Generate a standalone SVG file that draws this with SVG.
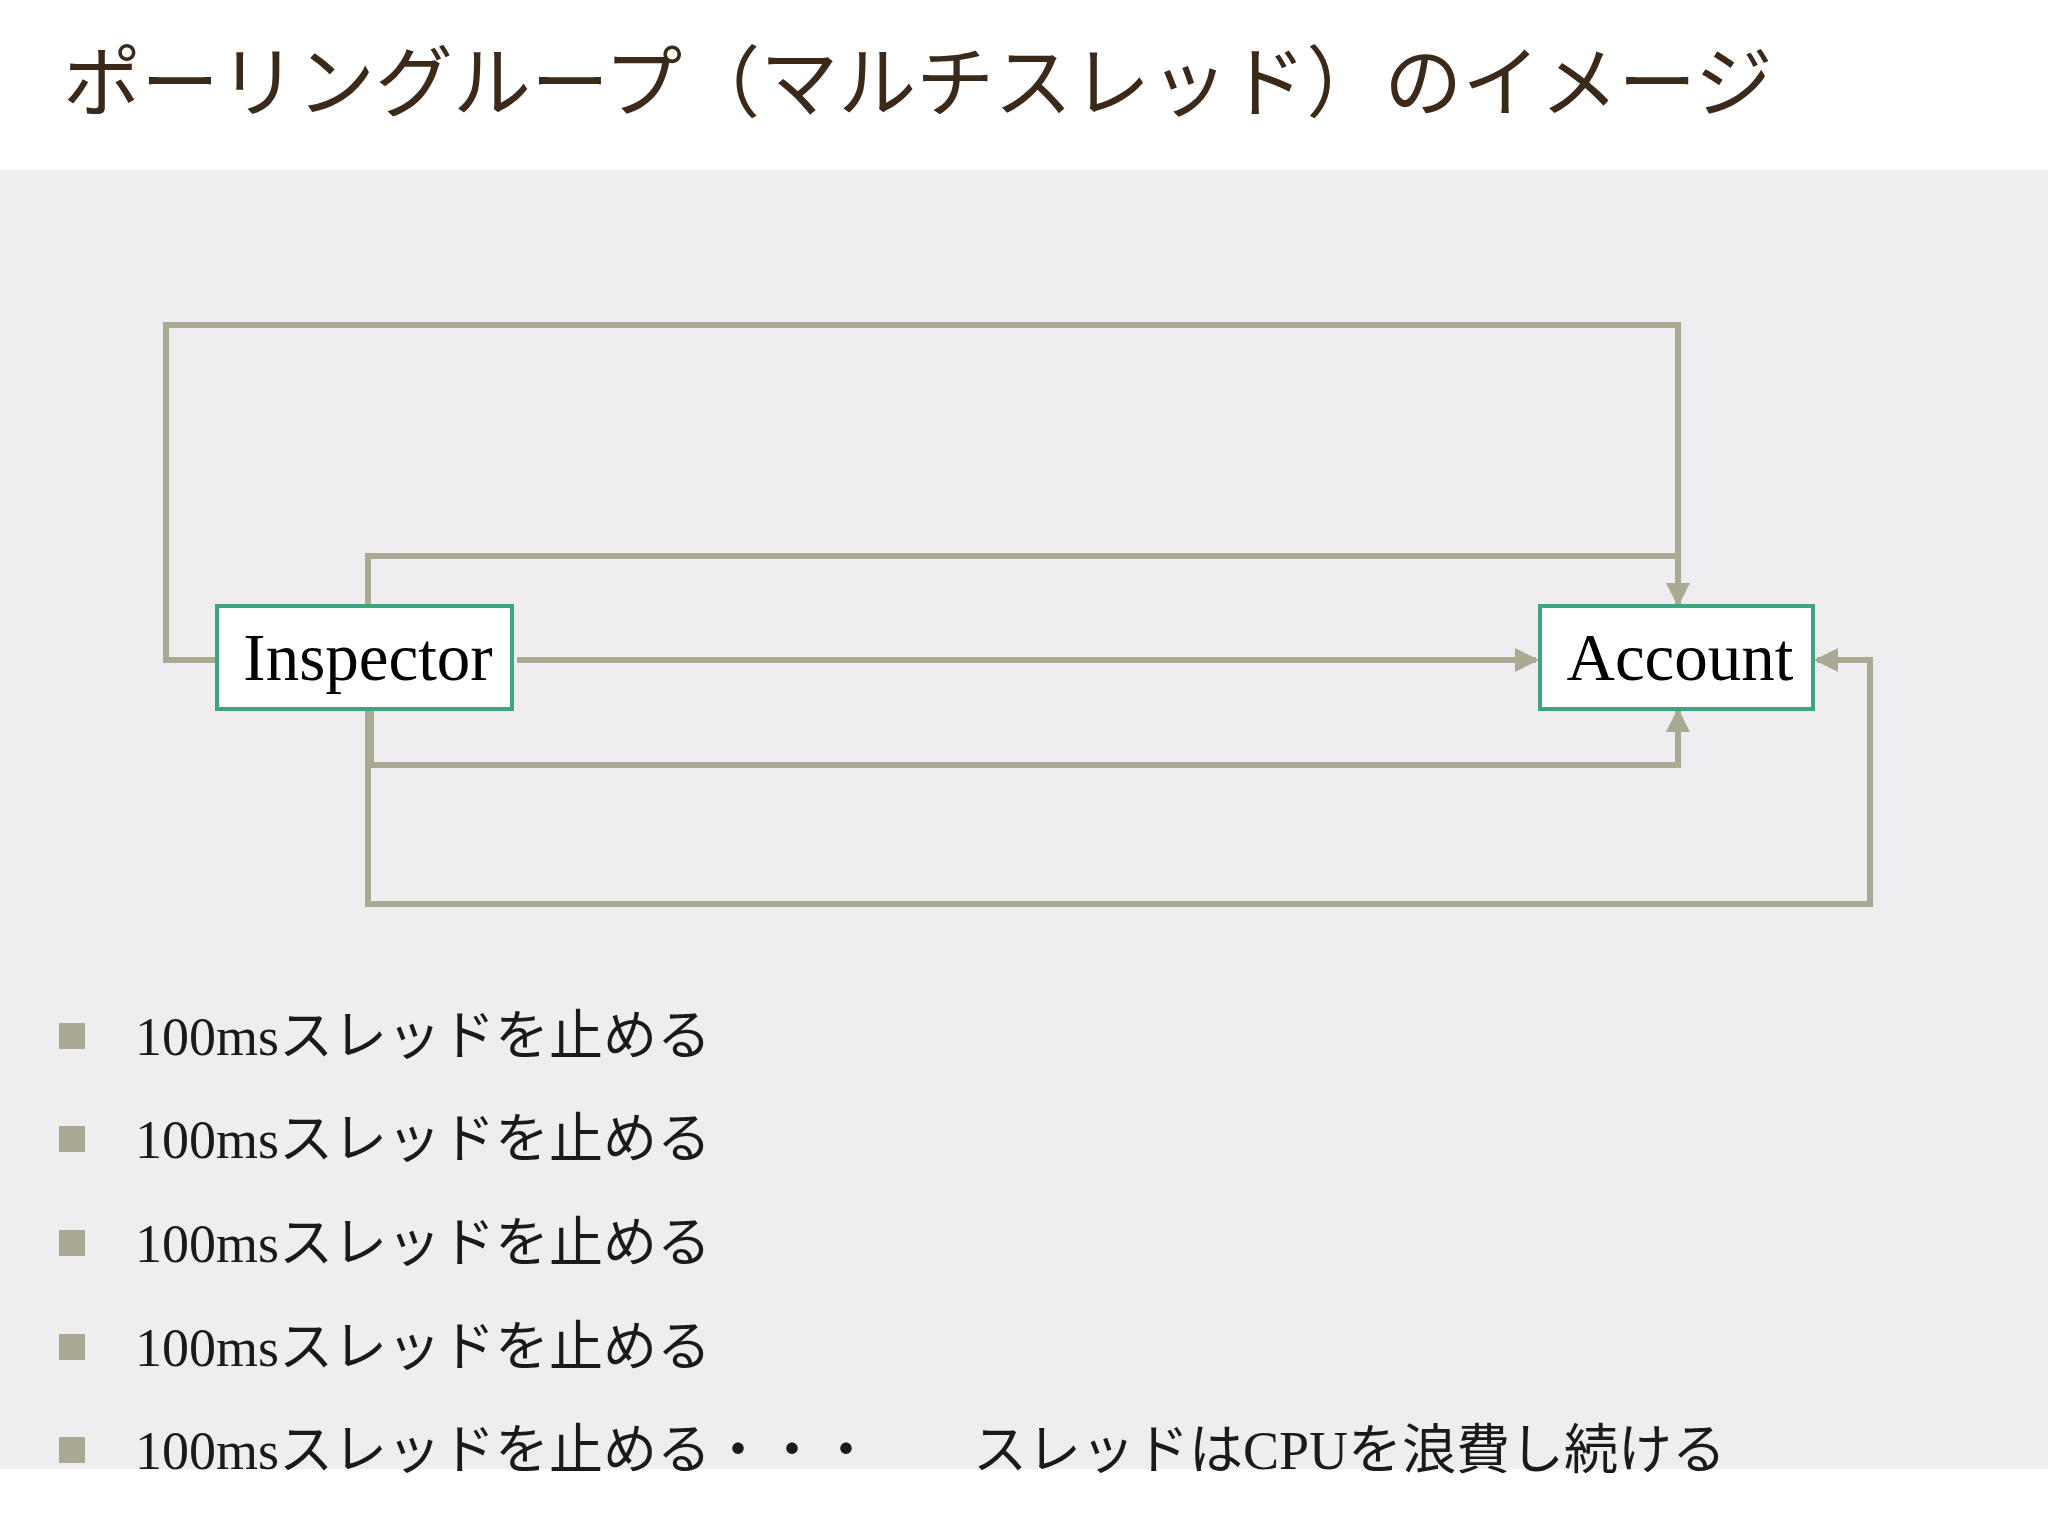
<svg xmlns="http://www.w3.org/2000/svg" width="2048" height="1536" viewBox="0 0 2048 1536">
<style>
.t{font-family:"Liberation Serif","Noto Sans CJK JP",serif}
.c{fill:none;stroke:#aaa994;stroke-width:6;stroke-linejoin:miter}
.n{fill:#fff;stroke:#3ea57f;stroke-width:4}
.b{fill:#aaa994}
.bt{font-size:54px;fill:#1a1a1a}
</style>
<defs><marker id="a" markerWidth="4" markerHeight="4" refX="3.5" refY="2" orient="auto" markerUnits="strokeWidth"><path d="M0,0L4,2L0,4z" fill="#aaa994"/></marker></defs>
<rect width="2048" height="1536" fill="#fff"/>
<rect y="170" width="2048" height="1299" fill="#efedef"/>
<text class="t" x="63" y="111" font-size="78" fill="#3b2a1a">ポーリングループ（マルチスレッド）のイメージ</text>
<g id="connectors">
<path class="c" d="M217,660H166V325H1678V604" marker-end="url(#a)"/>
<path class="c" d="M368,606V556H1678V600"/>
<path class="c" d="M517,660H1536" marker-end="url(#a)"/>
<path class="c" d="M371,709V765H1678V711" marker-end="url(#a)"/>
<path class="c" d="M368,709V904H1870V660H1817" marker-end="url(#a)"/>
</g>
<g id="inspector"><rect class="n" x="217" y="606" width="295" height="103"/><text class="t" x="368" y="680" font-size="67" text-anchor="middle">Inspector</text></g>
<g id="account"><rect class="n" x="1540" y="606" width="273" height="103"/><text class="t" x="1680" y="680" font-size="67" text-anchor="middle">Account</text></g>
<g id="bullets">
<rect class="b" x="59" y="1023" width="26" height="26"/><text class="t bt" x="135" y="1055">100msスレッドを止める</text>
<rect class="b" x="59" y="1126" width="26" height="26"/><text class="t bt" x="135" y="1158">100msスレッドを止める</text>
<rect class="b" x="59" y="1230" width="26" height="26"/><text class="t bt" x="135" y="1262">100msスレッドを止める</text>
<rect class="b" x="59" y="1334" width="26" height="26"/><text class="t bt" x="135" y="1366">100msスレッドを止める</text>
<rect class="b" x="59" y="1437" width="26" height="26"/><text class="t bt" x="135" y="1469">100msスレッドを止める・・・</text>
<text class="t bt" x="973" y="1469">スレッドはCPUを浪費し続ける</text>
</g>
</svg>
